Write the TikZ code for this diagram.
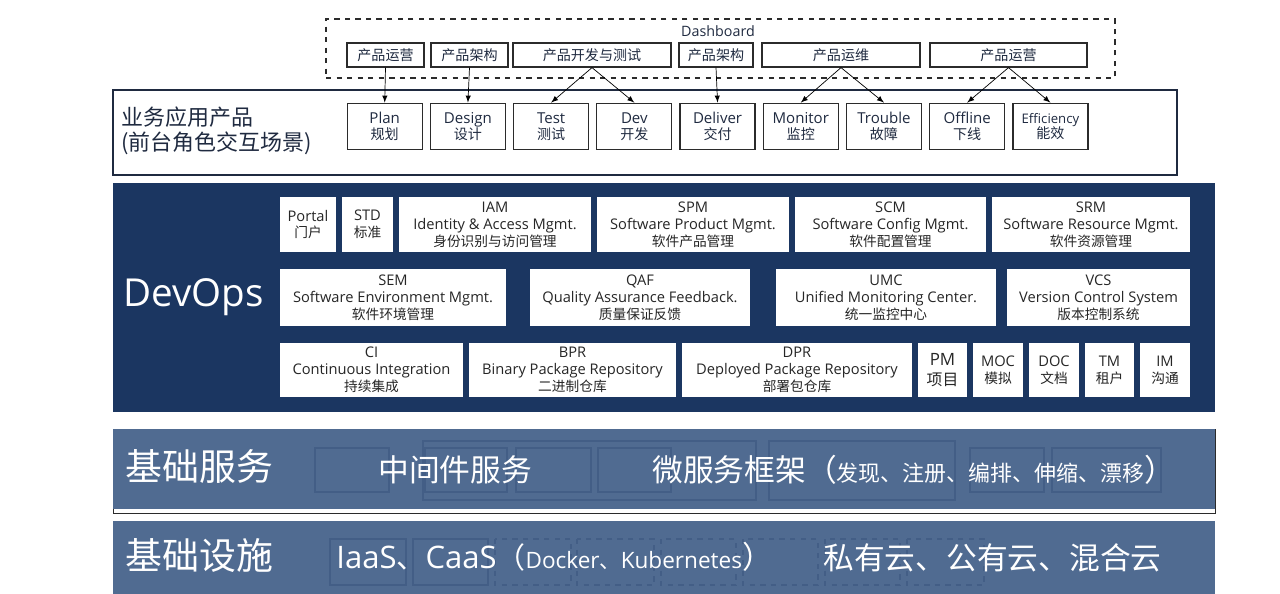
\documentclass[tikz,border=0pt]{standalone}
\usepackage{fontspec}
\setmainfont{Noto Sans CJK SC}
\newfontfamily\latin[Scale=1.07]{Open Sans}
\usetikzlibrary{positioning}
\usetikzlibrary{fit}
\definecolor{navy}{HTML}{1B3661}
\definecolor{steel}{HTML}{506B91}
\definecolor{ghostline}{HTML}{435E86}
\definecolor{frame}{HTML}{2B2B2B}
\definecolor{ink}{HTML}{1F2A40}
\tikzset{>=latex,
  topbox/.style={draw=frame,line width=0.7pt,fill=white,inner sep=0pt,text=ink,minimum height=0.48cm,font=\fontsize{8}{9.5}\selectfont},
  appbox/.style={draw=frame,line width=0.7pt,fill=white,inner sep=0pt,align=center,text=ink,minimum width=1.5cm,minimum height=0.93cm,font=\fontsize{8}{9}\selectfont},
  modbox/.style={fill=white,inner sep=0pt,align=center,text=black!85,font=\fontsize{7.8}{9.6}\selectfont},
  band/.style={fill=steel,inner sep=0pt},
  bigtext/.style={text=white,anchor=west,inner sep=0pt},
  ghost/.style={draw=ghostline,line width=0.6pt}}

\begin{document}
\begin{tikzpicture}[x=0.02cm,y=-0.02cm]
	\useasboundingbox (0,0) rectangle (1280,594);
	% dashboard
	\node[draw=frame,dashed,line width=0.7pt,inner sep=0pt,fit={(326,19) (1115,78)}] (dash) {};
	\node[text=ink,font=\fontsize{7.6}{10}\latin] (dashtitle) at (718,31) {Dashboard};
	\node[topbox,minimum width=1.54cm] (ops1) at (385.5,55) {产品运营};
	\node[topbox,minimum width=1.54cm] (arch1) at (469.5,55) {产品架构};
	\node[topbox,minimum width=3.16cm] (devtest) at (592,55) {产品开发与测试};
	\node[topbox,minimum width=1.48cm] (arch2) at (716,55) {产品架构};
	\node[topbox,minimum width=3.16cm] (maint) at (841,55) {产品运维};
	\node[topbox,minimum width=3.14cm] (ops2) at (1008.5,55) {产品运营};
	% business apps
	\node[draw=ink,line width=0.6pt,inner sep=0pt,fit={(113,90) (1177,175)}] (app) {};
	\node[anchor=west,inner sep=0pt,align=left,text=ink,font=\fontsize{12.5}{14.2}\selectfont] (apptitle) at (121,131) {业务应用产品\\(前台角色交互场景)};
	\node[appbox] (plan) at (384.7,126.5) {{\latin Plan}\\规划};
	\node[appbox,right=0.14cm of plan] (design) {{\latin Design}\\设计};
	\node[appbox,right=0.14cm of design] (test) {{\latin Test}\\测试};
	\node[appbox,right=0.14cm of test] (dev) {{\latin Dev}\\开发};
	\node[appbox,right=0.14cm of dev] (deliver) {{\latin Deliver}\\交付};
	\node[appbox,right=0.14cm of deliver] (monitor) {{\latin Monitor}\\监控};
	\node[appbox,right=0.14cm of monitor] (trouble) {{\latin Trouble}\\故障};
	\node[appbox,right=0.14cm of trouble] (offline) {{\latin Offline}\\下线};
	\node[appbox,right=0.14cm of offline] (effic) {{\latin\fontsize{7}{9}\selectfont Efficiency}\\能效};
	\draw[->] (ops1.south) -- (plan.north);
	\draw[->] (arch1.south) -- (design.north);
	\draw[->] (devtest.south) -- (test.north);
	\draw[->] (devtest.south) -- (dev.north);
	\draw[->] (arch2.south) -- (deliver.north);
	\draw[->] (maint.south) -- (monitor.north);
	\draw[->] (maint.south) -- (trouble.north);
	\draw[->] (ops2.south) -- (offline.north);
	\draw[->] (ops2.south) -- (effic.north);
	% devops
	\node[fill=navy,inner sep=0pt,fit={(113,183) (1215,412)}] (devops) {};
	\node[bigtext,font=\fontsize{20.5}{24}\latin] (devopstitle) at (123,297) {DevOps};
	\node[modbox,minimum width=1.12cm,minimum height=1.1cm] (portal) at (308,224.5) {{\latin Portal}\\门户};
	\node[modbox,minimum width=1.02cm,minimum height=1.1cm] (std) at (367.5,224.5) {{\latin STD}\\标准};
	\node[modbox,minimum width=3.84cm,minimum height=1.1cm] (iam) at (495,224.5) {{\latin IAM}\\{\latin Identity \& Access Mgmt.}\\身份识别与访问管理};
	\node[modbox,minimum width=3.84cm,minimum height=1.1cm] (spm) at (693,224.5) {{\latin SPM}\\{\latin Software Product Mgmt.}\\软件产品管理};
	\node[modbox,minimum width=3.82cm,minimum height=1.1cm] (scm) at (890.5,224.5) {{\latin SCM}\\{\latin Software Config Mgmt.}\\软件配置管理};
	\node[modbox,minimum width=3.96cm,minimum height=1.1cm] (srm) at (1091,224.5) {{\latin SRM}\\{\latin Software Resource Mgmt.}\\软件资源管理};
	\node[modbox,minimum width=4.52cm,minimum height=1.14cm] (sem) at (393,297.5) {{\latin SEM}\\{\latin Software Environment Mgmt.}\\软件环境管理};
	\node[modbox,minimum width=4.4cm,minimum height=1.14cm] (qaf) at (640,297.5) {{\latin QAF}\\{\latin Quality Assurance Feedback.}\\质量保证反馈};
	\node[modbox,minimum width=4.4cm,minimum height=1.14cm] (umc) at (886,297.5) {{\latin UMC}\\{\latin Unified Monitoring Center.}\\统一监控中心};
	\node[modbox,minimum width=3.66cm,minimum height=1.14cm] (vcs) at (1098.5,297.5) {{\latin VCS}\\{\latin Version Control System}\\版本控制系统};
	\node[modbox,minimum width=3.66cm,minimum height=1.08cm] (ci) at (371.5,370) {{\latin CI}\\{\latin Continuous Integration}\\持续集成};
	\node[modbox,minimum width=4.14cm,minimum height=1.08cm] (bpr) at (572.5,370) {{\latin BPR}\\{\latin Binary Package Repository}\\二进制仓库};
	\node[modbox,minimum width=4.6cm,minimum height=1.08cm] (dpr) at (797,370) {{\latin DPR}\\{\latin Deployed Package Repository}\\部署包仓库};
	\node[modbox,minimum width=0.98cm,minimum height=1.08cm,font=\fontsize{9}{11}\selectfont] (pm) at (942.5,370) {{\latin PM}\\项目};
	\node[modbox,minimum width=1cm,minimum height=1.08cm] (moc) at (998,370) {{\latin MOC}\\模拟};
	\node[modbox,minimum width=1cm,minimum height=1.08cm] (doc) at (1054,370) {{\latin DOC}\\文档};
	\node[modbox,minimum width=0.98cm,minimum height=1.08cm] (tm) at (1109.5,370) {{\latin TM}\\租户};
	\node[modbox,minimum width=1cm,minimum height=1.08cm] (im) at (1165,370) {{\latin IM}\\沟通};
	% base services
	\node[fill=white,draw=frame,line width=0.5pt,inner sep=0pt,fit={(113,429) (1215,513)}] (svcframe) {};
	\node[band,fit={(113,429) (1215,509)}] (svc) {};
	\draw[ghost] (315,448) rectangle (389,492);
	\draw[ghost] (423,441) rectangle (756,500);
	\draw[ghost] (425,448) rectangle (507,492);
	\draw[ghost] (516,448) rectangle (591,492);
	\draw[ghost] (598,448) rectangle (671,492);
	\draw[ghost] (769,441) rectangle (955,500);
	\draw[ghost] (970,448) rectangle (1044,492);
	\draw[ghost] (1052,448) rectangle (1161,492);
	\node[bigtext,font=\fontsize{21}{24}\selectfont] (svctitle) at (125,466) {基础服务};
	\node[bigtext,font=\fontsize{17.5}{20}\selectfont] (middleware) at (378,470) {中间件服务};
	\node[bigtext] (micro) at (652,470) {{\fontsize{17.5}{20}\selectfont 微服务框架（}{\fontsize{12.5}{15}\selectfont 发现、注册、编排、伸缩、漂移}{\fontsize{17.5}{20}\selectfont ）}};
	% infrastructure
	\node[band,fit={(113,521) (1215,594)}] (infra) {};
	\draw[ghost] (330,539) rectangle (406,585);
	\draw[ghost] (413,539) rectangle (488,585);
	\draw[ghost,dashed] (495,539) rectangle (571,585);
	\draw[ghost,dashed] (577,539) rectangle (654,585);
	\draw[ghost,dashed] (661,539) rectangle (736,585);
	\draw[ghost,dashed] (743,539) rectangle (818,585);
	\draw[ghost,dashed] (825,539) rectangle (900,585);
	\draw[ghost,dashed] (907,539) rectangle (984,585);
	\node[bigtext,font=\fontsize{21}{24}\selectfont] (infratitle) at (125,556) {基础设施};
	\node[bigtext] (caas) at (336,557) {{\fontsize{16.5}{20}\selectfont{\latin IaaS}、{\latin CaaS}（}{\fontsize{12}{15}\selectfont{\latin Docker}、{\latin Kubernetes}}{\fontsize{17.5}{20}\selectfont ）}};
	\node[bigtext,font=\fontsize{17.5}{20}\selectfont] (clouds) at (823,558) {私有云、公有云、混合云};
\end{tikzpicture}
\end{document}
